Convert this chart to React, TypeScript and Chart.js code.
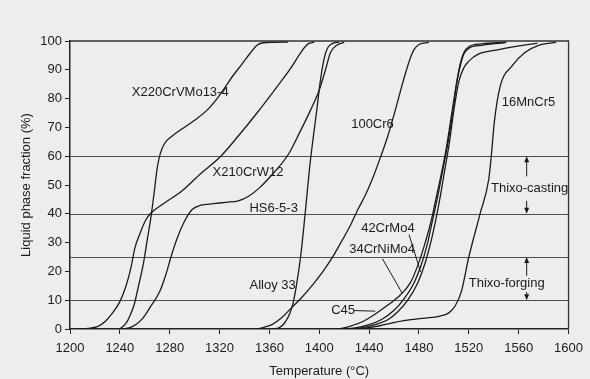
import React, { useEffect, useRef } from "react";
import { Chart, registerables } from "chart.js";

Chart.register(...registerables);

const FONT = '"Liberation Sans", Arial, Helvetica, sans-serif';
const INK = "#1b1b1b";
const BG = "#ededeb";

// ---- axes ----
const xTickValues = [1200, 1240, 1280, 1320, 1360, 1400, 1440, 1480, 1520, 1560, 1600];
const yTickValues = [0, 10, 20, 30, 40, 50, 60, 70, 80, 90, 100];
const gridLevels = [10, 25, 40, 60];

// ---- series (temperature °C, liquid fraction %) ----
const x210T = [1205, 1215, 1222, 1228, 1234, 1240, 1245, 1249, 1252, 1256, 1261, 1265, 1275, 1290, 1305, 1321, 1335, 1350, 1365, 1377, 1386, 1391, 1396];
const x210V = [0, 0.2, 0.8, 2.5, 5.5, 9.5, 15, 21.5, 28, 33, 38, 40.3, 43.5, 48, 54, 60, 67, 75, 83.5, 90.5, 96.5, 99, 99.6];

const x220T = [1240, 1245, 1248, 1251.5, 1255, 1259, 1262, 1265, 1268, 1270, 1272.5, 1276, 1282, 1290, 1300, 1310, 1318, 1323, 1330, 1338, 1345, 1350, 1355, 1375];
const x220V = [0, 2, 4.5, 8.5, 15, 23, 31, 39, 49, 56, 61, 64.5, 67, 69.5, 72.5, 76, 80, 83, 87.5, 92, 96, 98.5, 99.4, 99.6];

const hsT = [1243, 1250, 1258, 1265, 1272, 1277, 1281, 1286, 1292, 1298, 1305, 1315, 1325, 1335, 1343, 1352, 1364, 1375, 1384, 1393, 1400, 1405, 1409, 1414, 1420];
const hsV = [0, 0.8, 3.5, 8, 13, 19, 25, 31.5, 37.5, 41.5, 43, 43.5, 44, 44.5, 46, 49, 54.5, 60.5, 68, 76, 83, 90, 96, 98.5, 99.5];

const alloy33T = [1362, 1368, 1372, 1376, 1379, 1382, 1385, 1387.5, 1390, 1392, 1395, 1398, 1400.5, 1403, 1406, 1410, 1416];
const alloy33V = [0, 0.5, 2, 5, 9, 16, 25, 35, 46, 55, 66, 76, 85, 92, 97, 99, 99.6];

const cr6T = [1349, 1355, 1362, 1370, 1378, 1385, 1395, 1403, 1410, 1418, 1425, 1431, 1437, 1443, 1449, 1455, 1461, 1466, 1470, 1473, 1476, 1480, 1488];
const cr6V = [0, 0.5, 1.5, 4, 7.5, 10.5, 15.5, 20, 24.5, 30.5, 36, 41.5, 46.5, 52.5, 59.5, 67, 76, 84, 90, 94, 97, 98.8, 99.5];

const c45T = [1416, 1425, 1435, 1445, 1455, 1465, 1473, 1479, 1485, 1490, 1494, 1498, 1502, 1506, 1510, 1513, 1516, 1520, 1530, 1550];
const c45V = [0, 1, 2.6, 5.2, 8.3, 11.8, 16, 22, 30, 38, 46, 54, 63, 74, 85, 92, 96, 98, 99, 99.5];

const crNiMoT = [1420, 1430, 1440, 1450, 1460, 1468, 1476, 1482, 1487, 1491, 1495, 1499, 1503, 1507, 1510.5, 1513.5, 1516, 1520, 1530, 1550];
const crNiMoV = [0, 0.5, 1.5, 3.3, 6.5, 10.5, 16, 22.5, 30, 38, 46, 55, 64, 75, 86, 92, 95.5, 97.5, 98.5, 99.5];

const crMoT = [1425, 1435, 1445, 1455, 1463, 1471, 1479, 1485, 1490, 1494, 1497.5, 1501, 1504.5, 1508, 1512, 1516, 1520, 1528, 1544, 1560, 1575];
const crMoV = [0, 0.5, 1.5, 3.2, 6, 10, 16, 23, 31, 39, 47, 56, 65, 76, 86, 90.7, 93, 95.5, 97, 98.3, 99.2];

const mnCrT = [1430, 1445, 1456, 1469, 1485, 1496, 1504, 1509, 1514, 1520, 1529, 1536, 1538, 1540.5, 1545, 1555, 1565, 1576, 1590];
const mnCrV = [0, 0.8, 1.9, 3, 3.8, 4.4, 5.6, 8, 13, 25, 40, 52, 60, 72, 84, 91.5, 96, 98.5, 99.5];

const seriesList = [
  { name: "X210CrW12", t: x210T, v: x210V },
  { name: "X220CrVMo13-4", t: x220T, v: x220V },
  { name: "HS6-5-3", t: hsT, v: hsV },
  { name: "Alloy 33", t: alloy33T, v: alloy33V },
  { name: "100Cr6", t: cr6T, v: cr6V },
  { name: "C45", t: c45T, v: c45V },
  { name: "34CrNiMo4", t: crNiMoT, v: crNiMoV },
  { name: "42CrMo4", t: crMoT, v: crMoV },
  { name: "16MnCr5", t: mnCrT, v: mnCrV },
];

// ---- annotations (data coordinates) ----
const notes = [
  { text: "X220CrVMo13-4", t: 1249.6, v: 82, align: "left" },
  { text: "X210CrW12", t: 1314.4, v: 54.2, align: "left" },
  { text: "HS6-5-3", t: 1344, v: 42, align: "left" },
  { text: "Alloy 33", t: 1344, v: 15.3, align: "left" },
  { text: "100Cr6", t: 1425.6, v: 71, align: "left" },
  { text: "16MnCr5", t: 1546.4, v: 78.8, align: "left" },
  { text: "42CrMo4", t: 1433.6, v: 35, align: "left" },
  { text: "34CrNiMo4", t: 1424, v: 27.5, align: "left" },
  { text: "C45", t: 1409.6, v: 6.4, align: "left" },
  { text: "Thixo-casting", t: 1568.8, v: 48.7, align: "center" },
  { text: "Thixo-forging", t: 1550.4, v: 15.8, align: "center" },
];

const pointers = [
  { t1: 1472, v1: 32.8, t2: 1481.3, v2: 19.8 },
  { t1: 1450.7, v1: 24.4, t2: 1466.7, v2: 12.3 },
  { t1: 1428, v1: 6.4, t2: 1445, v2: 6.2 },
];

const arrows = [
  { t: 1566.4, from: 53, to: 60 },
  { t: 1566.4, from: 44.5, to: 40 },
  { t: 1566.4, from: 18.5, to: 25 },
  { t: 1566.4, from: 12.8, to: 10 },
];

const decor = {
  id: "decor",
  beforeDraw(chart: any) {
    const { ctx, width, height } = chart;
    ctx.save();
    ctx.fillStyle = BG;
    ctx.fillRect(0, 0, width, height);
    ctx.restore();
  },
  beforeDatasetsDraw(chart: any) {
    const { ctx, chartArea, scales } = chart;
    const { left, right, top, bottom } = chartArea;
    ctx.save();
    ctx.strokeStyle = "#4d4d4d";
    ctx.lineWidth = 1;
    gridLevels.forEach((g) => {
      const y = Math.round(scales.y.getPixelForValue(g)) + 0.5;
      ctx.beginPath();
      ctx.moveTo(left, y);
      ctx.lineTo(right, y);
      ctx.stroke();
    });
    ctx.strokeStyle = "#333";
    ctx.lineWidth = 1.3;
    ctx.beginPath();
    ctx.moveTo(left, top);
    ctx.lineTo(right, top);
    ctx.lineTo(right, bottom);
    ctx.stroke();
    ctx.restore();
  },
  afterDatasetsDraw(chart: any) {
    const { ctx, scales } = chart;
    const px = (t: number) => scales.x.getPixelForValue(t);
    const py = (v: number) => scales.y.getPixelForValue(v);
    ctx.save();
    ctx.fillStyle = INK;
    ctx.strokeStyle = INK;
    ctx.font = `13px ${FONT}`;
    ctx.textBaseline = "middle";
    notes.forEach((n) => {
      ctx.textAlign = n.align as CanvasTextAlign;
      ctx.fillText(n.text, px(n.t), py(n.v));
    });
    ctx.lineWidth = 1;
    pointers.forEach((p) => {
      ctx.beginPath();
      ctx.moveTo(px(p.t1), py(p.v1));
      ctx.lineTo(px(p.t2), py(p.v2));
      ctx.stroke();
    });
    arrows.forEach((a) => {
      const x = px(a.t);
      const y1 = py(a.from);
      const y2 = py(a.to);
      const dir = y2 > y1 ? 1 : -1;
      ctx.beginPath();
      ctx.moveTo(x, y1);
      ctx.lineTo(x, y2 - dir * 5);
      ctx.stroke();
      ctx.beginPath();
      ctx.moveTo(x, y2);
      ctx.lineTo(x - 2.5, y2 - dir * 6);
      ctx.lineTo(x + 2.5, y2 - dir * 6);
      ctx.closePath();
      ctx.fill();
    });
    ctx.restore();
  },
};

export default function App() {
  const ref = useRef<HTMLCanvasElement | null>(null);

  useEffect(() => {
    document.body.style.margin = "0";
    const canvas = ref.current;
    if (!canvas) return;
    const chart = new Chart(canvas, {
      type: "line",
      data: {
        datasets: seriesList.map((s) => ({
          label: s.name,
          data: s.t.map((t, i) => ({ x: t, y: s.v[i] })),
          borderColor: INK,
          borderWidth: 1.3,
          pointRadius: 0,
          fill: false,
          cubicInterpolationMode: "monotone" as const,
        })),
      },
      options: {
        animation: false,
        responsive: true,
        maintainAspectRatio: false,
        layout: { padding: { top: 41, right: 20, left: 0, bottom: 0 } },
        plugins: {
          legend: { display: false },
          tooltip: { enabled: false },
        },
        scales: {
          x: {
            type: "linear",
            position: "bottom",
            min: 1200,
            max: 1600,
            afterBuildTicks: (s: any) => {
              s.ticks = xTickValues.map((value) => ({ value }));
            },
            afterFit: (s: any) => {
              s.height = 50;
            },
            ticks: {
              color: INK,
              font: { family: FONT, size: 13 },
              padding: 7,
              maxRotation: 0,
              autoSkip: false,
              callback: (v: any) => String(v),
            },
            grid: {
              display: true,
              drawOnChartArea: false,
              drawTicks: true,
              tickLength: 5,
              color: "#222",
            },
            border: { display: true, color: "#222", width: 1.5 },
            title: {
              display: true,
              text: "Temperature (°C)",
              color: INK,
              font: { family: FONT, size: 13 },
              padding: { top: 0, bottom: 0 },
            },
          },
          y: {
            type: "linear",
            min: 0,
            max: 100,
            afterBuildTicks: (s: any) => {
              s.ticks = yTickValues.map((value) => ({ value }));
            },
            afterFit: (s: any) => {
              s.width = 70;
            },
            ticks: {
              color: INK,
              font: { family: FONT, size: 13 },
              padding: 3,
              autoSkip: false,
              callback: (v: any) => String(v),
            },
            grid: {
              display: true,
              drawOnChartArea: false,
              drawTicks: true,
              tickLength: 5,
              color: "#222",
            },
            border: { display: true, color: "#222", width: 1.5 },
            title: {
              display: true,
              text: "Liquid phase fraction (%)",
              color: INK,
              font: { family: FONT, size: 13 },
              padding: { top: 19, bottom: 0 },
            },
          },
        },
      },
      plugins: [decor],
    });
    return () => chart.destroy();
  }, []);

  return (
    <div style={{ position: "fixed", left: 0, top: 0, width: 590, height: 379, background: BG }}>
      <canvas ref={ref} />
    </div>
  );
}
